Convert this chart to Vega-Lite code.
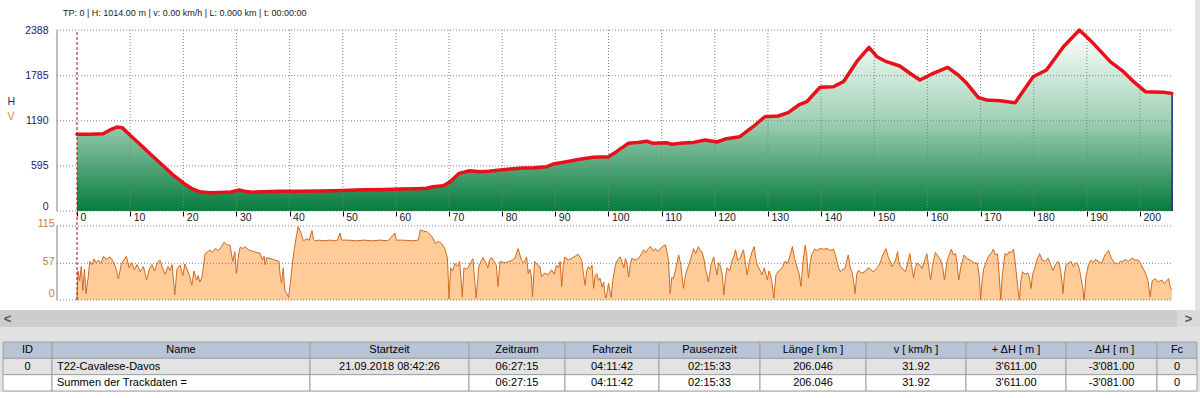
{
  "$schema": "https://vega.github.io/schema/vega-lite/v6.json",
  "background": "#e2e2e5",
  "padding": 0,
  "spacing": 0,
  "config": {"font": "Liberation Sans", "view": {"stroke": null}, "concat": {"spacing": 0}},
  "datasets": {
    "elev": [
      {"km":0,"h":1014},{"km":2.5,"h":1014},{"km":4.9,"h":1018},{"km":6.2,"h":1070},{"km":7.5,"h":1108},{"km":8.5,"h":1100},{"km":10,"h":1000},{"km":12,"h":870},{"km":14,"h":740},{"km":16,"h":610},{"km":18,"h":480},{"km":20,"h":370},{"km":21.5,"h":300},{"km":23,"h":255},{"km":25,"h":240},{"km":27,"h":245},{"km":29,"h":250},{"km":30.5,"h":278},{"km":31.5,"h":262},{"km":33,"h":248},{"km":35,"h":255},{"km":38,"h":260},{"km":42,"h":262},{"km":46,"h":265},{"km":50,"h":272},{"km":54,"h":280},{"km":58,"h":285},{"km":61,"h":290},{"km":64,"h":295},{"km":65.8,"h":300},{"km":67,"h":320},{"km":68.9,"h":334},{"km":70.2,"h":387},{"km":71.9,"h":497},{"km":73.9,"h":532},{"km":75.8,"h":519},{"km":77.5,"h":525},{"km":79.6,"h":541},{"km":81.5,"h":554},{"km":83.9,"h":567},{"km":86,"h":572},{"km":88.4,"h":585},{"km":89.6,"h":620},{"km":92.1,"h":651},{"km":94.6,"h":682},{"km":97.1,"h":708},{"km":100,"h":717},{"km":101.5,"h":783},{"km":103.7,"h":893},{"km":105.5,"h":905},{"km":107.2,"h":920},{"km":108.4,"h":893},{"km":110.9,"h":901},{"km":111.9,"h":880},{"km":114,"h":897},{"km":116,"h":905},{"km":118.2,"h":937},{"km":120.4,"h":910},{"km":122.2,"h":954},{"km":124.7,"h":980},{"km":127.2,"h":1112},{"km":129.4,"h":1244},{"km":131.9,"h":1253},{"km":133.8,"h":1297},{"km":136,"h":1408},{"km":137.3,"h":1442},{"km":139.8,"h":1632},{"km":142.3,"h":1640},{"km":144.2,"h":1706},{"km":146.7,"h":1970},{"km":149,"h":2160},{"km":150.5,"h":2036},{"km":152.3,"h":1970},{"km":154.8,"h":1913},{"km":156.7,"h":1817},{"km":158.6,"h":1728},{"km":161.1,"h":1817},{"km":163.8,"h":1896},{"km":165.8,"h":1794},{"km":167.4,"h":1685},{"km":169.6,"h":1495},{"km":171.2,"h":1464},{"km":173.7,"h":1455},{"km":176.5,"h":1429},{"km":179.9,"h":1772},{"km":182.4,"h":1860},{"km":185.6,"h":2168},{"km":188.6,"h":2388},{"km":191.2,"h":2212},{"km":194.4,"h":1970},{"km":196.9,"h":1838},{"km":198.8,"h":1706},{"km":201,"h":1574},{"km":204.4,"h":1566},{"km":206,"h":1552}
    ],
    "speed": [
      {"km":0,"v":0},{"km":0.2,"v":45},{"km":0.5,"v":30},{"km":0.8,"v":52},{"km":1.1,"v":15},{"km":1.4,"v":48},{"km":1.7,"v":10},{"km":2.1,"v":35},{"km":2.4,"v":60},{"km":2.8,"v":55},{"km":3.2,"v":64},{"km":3.6,"v":58},{"km":4.0,"v":62},{"km":4.5,"v":57},{"km":5.0,"v":68},{"km":5.5,"v":63},{"km":6.2,"v":67},{"km":6.8,"v":60},{"km":7.3,"v":50},{"km":7.8,"v":33},{"km":8.3,"v":55},{"km":8.8,"v":62},{"km":9.3,"v":68},{"km":9.8,"v":50},{"km":10.3,"v":58},{"km":10.8,"v":47},{"km":11.3,"v":55},{"km":11.9,"v":44},{"km":12.5,"v":52},{"km":13.1,"v":31},{"km":13.6,"v":48},{"km":14.1,"v":55},{"km":14.6,"v":45},{"km":15.1,"v":58},{"km":15.6,"v":62},{"km":16.1,"v":50},{"km":16.6,"v":40},{"km":17.1,"v":52},{"km":17.5,"v":46},{"km":17.9,"v":55},{"km":18.4,"v":8},{"km":18.8,"v":48},{"km":19.4,"v":54},{"km":19.9,"v":38},{"km":20.3,"v":56},{"km":20.6,"v":50},{"km":21.1,"v":40},{"km":21.6,"v":23},{"km":22.0,"v":45},{"km":22.5,"v":31},{"km":22.8,"v":38},{"km":23.1,"v":28},{"km":23.5,"v":35},{"km":24.1,"v":72},{"km":24.6,"v":75},{"km":25.0,"v":78},{"km":25.5,"v":74},{"km":26.0,"v":80},{"km":26.6,"v":77},{"km":27.1,"v":82},{"km":27.7,"v":90},{"km":28.2,"v":86},{"km":28.8,"v":85},{"km":29.3,"v":60},{"km":29.7,"v":75},{"km":30.0,"v":41},{"km":30.4,"v":70},{"km":30.7,"v":82},{"km":31.2,"v":80},{"km":31.6,"v":83},{"km":32.3,"v":78},{"km":33.0,"v":76},{"km":33.7,"v":74},{"km":34.4,"v":73},{"km":34.9,"v":62},{"km":35.2,"v":68},{"km":35.4,"v":55},{"km":35.7,"v":66},{"km":36.5,"v":64},{"km":37.3,"v":62},{"km":38.0,"v":60},{"km":38.2,"v":40},{"km":38.5,"v":26},{"km":38.8,"v":50},{"km":39.1,"v":15},{"km":39.5,"v":10},{"km":39.8,"v":4},{"km":40.2,"v":30},{"km":40.5,"v":55},{"km":40.9,"v":80},{"km":41.3,"v":100},{"km":41.6,"v":114},{"km":42.1,"v":105},{"km":42.6,"v":92},{"km":43.2,"v":95},{"km":43.7,"v":93},{"km":44.2,"v":108},{"km":44.5,"v":94},{"km":44.8,"v":92},{"km":45.5,"v":93},{"km":46.5,"v":92},{"km":47.5,"v":93},{"km":48.5,"v":92},{"km":49.0,"v":93},{"km":49.5,"v":104},{"km":49.8,"v":93},{"km":51,"v":93},{"km":52.5,"v":92},{"km":54,"v":93},{"km":55.5,"v":92},{"km":57,"v":93},{"km":58.5,"v":92},{"km":59.8,"v":104},{"km":60.1,"v":93},{"km":61.5,"v":93},{"km":63,"v":92},{"km":64.2,"v":93},{"km":64.6,"v":109},{"km":65.2,"v":107},{"km":65.9,"v":106},{"km":66.5,"v":101},{"km":67.0,"v":96},{"km":67.4,"v":88},{"km":68.0,"v":91},{"km":68.6,"v":88},{"km":69.2,"v":80},{"km":69.7,"v":65},{"km":70.0,"v":2},{"km":70.3,"v":50},{"km":70.7,"v":45},{"km":71.1,"v":57},{"km":71.6,"v":52},{"km":72.0,"v":60},{"km":72.5,"v":5},{"km":72.8,"v":50},{"km":73.2,"v":48},{"km":73.6,"v":50},{"km":74.0,"v":58},{"km":74.5,"v":64},{"km":75.1,"v":3},{"km":75.6,"v":52},{"km":76.0,"v":60},{"km":76.4,"v":66},{"km":76.9,"v":58},{"km":77.3,"v":50},{"km":77.6,"v":62},{"km":78.0,"v":66},{"km":78.5,"v":60},{"km":78.9,"v":54},{"km":79.2,"v":21},{"km":79.6,"v":60},{"km":80.3,"v":58},{"km":81.0,"v":59},{"km":81.7,"v":61},{"km":82.4,"v":65},{"km":83.0,"v":80},{"km":83.6,"v":62},{"km":84.1,"v":58},{"km":84.6,"v":67},{"km":84.9,"v":41},{"km":85.2,"v":48},{"km":85.5,"v":36},{"km":85.7,"v":5},{"km":86.1,"v":60},{"km":86.6,"v":55},{"km":87.1,"v":52},{"km":87.4,"v":36},{"km":88.0,"v":42},{"km":88.6,"v":39},{"km":89.3,"v":47},{"km":89.8,"v":40},{"km":90.2,"v":54},{"km":90.6,"v":50},{"km":90.9,"v":60},{"km":91.2,"v":21},{"km":91.5,"v":55},{"km":91.8,"v":67},{"km":92.4,"v":62},{"km":93.1,"v":65},{"km":93.7,"v":68},{"km":94.3,"v":71},{"km":94.7,"v":66},{"km":95.0,"v":60},{"km":95.3,"v":40},{"km":95.6,"v":23},{"km":95.9,"v":45},{"km":96.2,"v":52},{"km":96.6,"v":48},{"km":96.9,"v":54},{"km":97.2,"v":18},{"km":97.5,"v":38},{"km":97.8,"v":41},{"km":98.1,"v":30},{"km":98.4,"v":34},{"km":98.8,"v":20},{"km":99.1,"v":28},{"km":99.3,"v":10},{"km":99.5,"v":3},{"km":99.8,"v":15},{"km":100.0,"v":26},{"km":100.3,"v":12},{"km":100.5,"v":4},{"km":100.8,"v":30},{"km":101.3,"v":54},{"km":101.7,"v":62},{"km":102.2,"v":67},{"km":102.6,"v":58},{"km":102.9,"v":50},{"km":103.2,"v":65},{"km":103.5,"v":55},{"km":103.8,"v":36},{"km":104.1,"v":55},{"km":104.4,"v":65},{"km":105.0,"v":62},{"km":105.7,"v":65},{"km":106.2,"v":72},{"km":106.6,"v":78},{"km":107.0,"v":74},{"km":107.5,"v":80},{"km":107.9,"v":83},{"km":108.4,"v":76},{"km":108.8,"v":80},{"km":109.3,"v":75},{"km":110.0,"v":82},{"km":110.7,"v":86},{"km":111.0,"v":75},{"km":111.3,"v":60},{"km":111.6,"v":10},{"km":111.9,"v":35},{"km":112.2,"v":33},{"km":112.7,"v":50},{"km":113.2,"v":70},{"km":113.6,"v":55},{"km":114.1,"v":18},{"km":114.5,"v":40},{"km":115.0,"v":52},{"km":115.5,"v":65},{"km":116.0,"v":80},{"km":116.4,"v":72},{"km":116.9,"v":83},{"km":117.3,"v":76},{"km":117.6,"v":75},{"km":118.0,"v":62},{"km":118.2,"v":50},{"km":118.5,"v":40},{"km":118.8,"v":28},{"km":119.3,"v":55},{"km":119.8,"v":67},{"km":120.1,"v":52},{"km":120.4,"v":39},{"km":120.7,"v":58},{"km":121.0,"v":54},{"km":121.4,"v":40},{"km":121.7,"v":8},{"km":122.0,"v":35},{"km":122.3,"v":50},{"km":122.8,"v":45},{"km":123.2,"v":60},{"km":123.6,"v":68},{"km":123.9,"v":78},{"km":124.3,"v":62},{"km":124.8,"v":65},{"km":125.1,"v":72},{"km":125.4,"v":78},{"km":125.8,"v":55},{"km":126.1,"v":39},{"km":126.5,"v":60},{"km":127.0,"v":75},{"km":127.4,"v":83},{"km":127.7,"v":65},{"km":128.0,"v":54},{"km":128.4,"v":48},{"km":128.9,"v":39},{"km":129.3,"v":50},{"km":129.9,"v":31},{"km":130.2,"v":45},{"km":130.5,"v":39},{"km":130.8,"v":25},{"km":131.1,"v":3},{"km":131.3,"v":20},{"km":131.5,"v":39},{"km":132.0,"v":45},{"km":132.7,"v":50},{"km":133.2,"v":60},{"km":133.7,"v":57},{"km":134.2,"v":70},{"km":134.6,"v":83},{"km":135.0,"v":65},{"km":135.5,"v":50},{"km":135.9,"v":40},{"km":136.2,"v":21},{"km":136.6,"v":60},{"km":137.0,"v":85},{"km":137.3,"v":70},{"km":137.6,"v":34},{"km":138.0,"v":60},{"km":138.2,"v":70},{"km":138.8,"v":79},{"km":139.3,"v":77},{"km":139.8,"v":80},{"km":140.5,"v":79},{"km":141.1,"v":80},{"km":141.7,"v":77},{"km":142.3,"v":79},{"km":142.7,"v":70},{"km":143.0,"v":60},{"km":143.3,"v":50},{"km":143.6,"v":44},{"km":144.0,"v":47},{"km":144.5,"v":49},{"km":144.8,"v":60},{"km":145.1,"v":70},{"km":145.5,"v":50},{"km":145.8,"v":44},{"km":146.1,"v":30},{"km":146.4,"v":10},{"km":146.7,"v":40},{"km":147.0,"v":46},{"km":147.6,"v":42},{"km":148.3,"v":44},{"km":148.8,"v":50},{"km":149.2,"v":49},{"km":149.7,"v":44},{"km":150.2,"v":46},{"km":150.7,"v":52},{"km":151.1,"v":57},{"km":151.6,"v":70},{"km":152.2,"v":80},{"km":152.6,"v":68},{"km":153.0,"v":60},{"km":153.3,"v":52},{"km":153.6,"v":55},{"km":154.0,"v":62},{"km":154.4,"v":75},{"km":154.6,"v":60},{"km":154.9,"v":52},{"km":155.4,"v":48},{"km":155.9,"v":44},{"km":156.3,"v":58},{"km":156.7,"v":72},{"km":157.0,"v":55},{"km":157.4,"v":34},{"km":157.7,"v":50},{"km":158.0,"v":57},{"km":158.5,"v":55},{"km":159.0,"v":49},{"km":159.5,"v":62},{"km":159.9,"v":72},{"km":160.2,"v":55},{"km":160.6,"v":31},{"km":161.0,"v":55},{"km":161.5,"v":74},{"km":162.0,"v":68},{"km":162.5,"v":62},{"km":162.9,"v":50},{"km":163.2,"v":31},{"km":163.7,"v":60},{"km":164.1,"v":70},{"km":164.5,"v":79},{"km":164.9,"v":70},{"km":165.3,"v":72},{"km":165.6,"v":55},{"km":165.9,"v":31},{"km":166.3,"v":52},{"km":166.9,"v":70},{"km":167.5,"v":64},{"km":168.1,"v":62},{"km":168.7,"v":58},{"km":169.4,"v":57},{"km":169.8,"v":35},{"km":170.0,"v":0},{"km":170.3,"v":30},{"km":170.6,"v":49},{"km":171.1,"v":60},{"km":171.6,"v":70},{"km":172.0,"v":72},{"km":172.4,"v":79},{"km":172.8,"v":70},{"km":173.2,"v":72},{"km":173.5,"v":40},{"km":173.8,"v":0},{"km":174.1,"v":40},{"km":174.6,"v":72},{"km":175.0,"v":70},{"km":175.4,"v":75},{"km":175.8,"v":74},{"km":176.2,"v":79},{"km":176.5,"v":60},{"km":176.7,"v":44},{"km":177.0,"v":20},{"km":177.3,"v":0},{"km":177.6,"v":30},{"km":177.9,"v":44},{"km":178.4,"v":40},{"km":178.9,"v":42},{"km":179.2,"v":35},{"km":179.5,"v":18},{"km":179.8,"v":40},{"km":180.2,"v":49},{"km":180.6,"v":62},{"km":181.1,"v":72},{"km":181.6,"v":62},{"km":182.1,"v":60},{"km":182.7,"v":65},{"km":183.2,"v":55},{"km":183.6,"v":46},{"km":184.1,"v":55},{"km":184.6,"v":60},{"km":185.0,"v":50},{"km":185.3,"v":30},{"km":185.5,"v":10},{"km":185.8,"v":40},{"km":186.1,"v":55},{"km":186.5,"v":57},{"km":187.0,"v":60},{"km":187.5,"v":52},{"km":188.0,"v":58},{"km":188.4,"v":54},{"km":188.8,"v":40},{"km":189.2,"v":20},{"km":189.5,"v":0},{"km":189.8,"v":35},{"km":190.3,"v":55},{"km":190.8,"v":62},{"km":191.2,"v":58},{"km":191.6,"v":63},{"km":192.2,"v":60},{"km":192.8,"v":57},{"km":193.4,"v":70},{"km":194.1,"v":77},{"km":194.6,"v":65},{"km":195.0,"v":60},{"km":195.3,"v":57},{"km":195.8,"v":56},{"km":196.3,"v":60},{"km":196.6,"v":59},{"km":197.2,"v":63},{"km":197.8,"v":60},{"km":198.5,"v":65},{"km":199.1,"v":62},{"km":199.7,"v":62},{"km":200.2,"v":55},{"km":200.7,"v":47},{"km":201.1,"v":40},{"km":201.5,"v":30},{"km":201.9,"v":5},{"km":202.3,"v":30},{"km":202.9,"v":33},{"km":203.4,"v":28},{"km":204.1,"v":31},{"km":204.6,"v":25},{"km":205.0,"v":30},{"km":205.4,"v":33},{"km":205.7,"v":20},{"km":206.0,"v":16}
    ],
    "table": [
      {"col":"ID","row":"h","text":"ID"},{"col":"ID","row":"r1","text":"0"},{"col":"ID","row":"r2","text":""},
      {"col":"Name","row":"h","text":"Name"},{"col":"Name","row":"r1","text":"T22-Cavalese-Davos"},{"col":"Name","row":"r2","text":"Summen der Trackdaten ="},
      {"col":"Start","row":"h","text":"Startzeit"},{"col":"Start","row":"r1","text":"21.09.2018 08:42:26"},{"col":"Start","row":"r2","text":""},
      {"col":"Zeit","row":"h","text":"Zeitraum"},{"col":"Zeit","row":"r1","text":"06:27:15"},{"col":"Zeit","row":"r2","text":"06:27:15"},
      {"col":"Fahr","row":"h","text":"Fahrzeit"},{"col":"Fahr","row":"r1","text":"04:11:42"},{"col":"Fahr","row":"r2","text":"04:11:42"},
      {"col":"Pause","row":"h","text":"Pausenzeit"},{"col":"Pause","row":"r1","text":"02:15:33"},{"col":"Pause","row":"r2","text":"02:15:33"},
      {"col":"Laenge","row":"h","text":"Länge  [ km ]"},{"col":"Laenge","row":"r1","text":"206.046"},{"col":"Laenge","row":"r2","text":"206.046"},
      {"col":"V","row":"h","text":"v  [ km/h ]"},{"col":"V","row":"r1","text":"31.92"},{"col":"V","row":"r2","text":"31.92"},
      {"col":"Up","row":"h","text":"+ ΔH  [ m ]"},{"col":"Up","row":"r1","text":"3'611.00"},{"col":"Up","row":"r2","text":"3'611.00"},
      {"col":"Down","row":"h","text":"- ΔH  [ m ]"},{"col":"Down","row":"r1","text":"-3'081.00"},{"col":"Down","row":"r2","text":"-3'081.00"},
      {"col":"Fc","row":"h","text":"Fc"},{"col":"Fc","row":"r1","text":"0"},{"col":"Fc","row":"r2","text":"0"}
    ]
  },
  "vconcat": [
    {
      "width": 1195,
      "height": 310,
      "view": {"fill": "#ffffff", "stroke": null},
      "resolve": {"scale": {"y": "independent"}, "axis": {"y": "independent"}},
      "layer": [
        {
          "layer": [
            {
              "data": {"name": "elev"},
              "mark": {"type": "area", "color": {"gradient": "linear", "x1": 0, "y1": 0, "x2": 0, "y2": 1, "stops": [{"offset": 0, "color": "#ffffff"}, {"offset": 0.5, "color": "#9fd1b5"}, {"offset": 1, "color": "#067b3c"}]}},
              "encoding": {
                "x": {"field": "km", "type": "quantitative", "scale": {"domain": [-14.487, 210.348], "nice": false, "zero": false},
                  "axis": {"orient": "bottom", "offset": -99, "values": [0,10,20,30,40,50,60,70,80,90,100,110,120,130,140,150,160,170,180,190,200], "format": "d", "title": null, "domain": false, "grid": false, "ticks": true, "tickSize": 5, "tickColor": "#000000", "labelAlign": "left", "labelBaseline": "top", "labelPadding": -4, "labelOffset": 3, "labelFontSize": 10.5, "labelColor": "#1a1a1a", "labelOverlap": false, "labelFlush": false}},
                "y": {"field": "h", "type": "quantitative", "scale": {"domain": [-1306.1, 2783.8], "nice": false, "zero": false},
                  "axis": {"orient": "left", "offset": -57, "values": [0, 595, 1190, 1785, 2388], "format": "d", "title": "H", "titleAngle": 0, "titleX": -50, "titleY": 101, "titleAlign": "left", "titleBaseline": "middle", "titleFontSize": 10.5, "titleFontWeight": "normal", "titleColor": "#2a2a7a", "domain": false, "grid": false, "ticks": false, "tickSize": 0, "labelPadding": 9, "labelFontSize": 10.5, "labelColor": "#20206e", "labelOffset": {"condition": {"test": "datum.value === 0", "value": -5}, "value": 0}, "labelOverlap": false, "labelFlush": false}},
                "y2": {"datum": 0}
              }
            },
            {
              "data": {"values": [{"h": 0}, {"h": 595}, {"h": 1190}, {"h": 1785}, {"h": 2388}]},
              "mark": {"type": "rule", "color": "#808080", "strokeDash": [1, 2], "strokeWidth": 1},
              "encoding": {
                "x": {"datum": -3.763, "type": "quantitative"},
                "x2": {"datum": 206.046},
                "y": {"field": "h", "type": "quantitative"}
              }
            },
            {
              "data": {"values": [{"km":10},{"km":20},{"km":30},{"km":40},{"km":50},{"km":60},{"km":70},{"km":80},{"km":90},{"km":100},{"km":110},{"km":120},{"km":130},{"km":140},{"km":150},{"km":160},{"km":170},{"km":180},{"km":190},{"km":200}]},
              "mark": {"type": "rule", "color": "#808080", "strokeDash": [1, 2], "strokeWidth": 1},
              "encoding": {
                "x": {"field": "km", "type": "quantitative"},
                "y": {"datum": 0, "type": "quantitative"},
                "y2": {"datum": 2388}
              }
            },
            {
              "data": {"values": [{}]},
              "mark": {"type": "rule", "color": "#808080", "strokeWidth": 1},
              "encoding": {
                "x": {"datum": -3.763, "type": "quantitative"},
                "y": {"datum": 0, "type": "quantitative"},
                "y2": {"datum": 2388}
              }
            },
            {
              "data": {"values": [{}]},
              "mark": {"type": "rule", "color": "#1a237e", "strokeWidth": 1.5},
              "encoding": {
                "x": {"datum": 206.046, "type": "quantitative"},
                "y": {"datum": 0, "type": "quantitative"},
                "y2": {"datum": 1552}
              }
            },
            {
              "data": {"name": "elev"},
              "mark": {"type": "line", "color": "#e8101a", "strokeWidth": 3.5, "strokeJoin": "round", "strokeCap": "round"},
              "encoding": {
                "x": {"field": "km", "type": "quantitative"},
                "y": {"field": "h", "type": "quantitative"}
              }
            },
            {
              "data": {"values": [{"t": "TP: 0 | H: 1014.00 m | v: 0.00 km/h | L: 0.000 km | t: 00:00:00"}]},
              "mark": {"type": "text", "align": "left", "baseline": "middle", "fontSize": 9, "color": "#1a1a1a"},
              "encoding": {
                "x": {"datum": -2.634, "type": "quantitative"},
                "y": {"datum": 2612, "type": "quantitative"},
                "text": {"field": "t"}
              }
            }
          ]
        },
        {
          "layer": [
            {
              "data": {"name": "speed"},
              "mark": {"type": "area", "color": "#ffcc99"},
              "encoding": {
                "x": {"field": "km", "type": "quantitative"},
                "y": {"field": "v", "type": "quantitative", "scale": {"domain": [-15.54, 466.2], "nice": false, "zero": false},
                  "axis": {"orient": "left", "offset": -57, "values": [0, 57, 115], "format": "d", "title": "V", "titleAngle": 0, "titleX": -50, "titleY": 116, "titleAlign": "left", "titleBaseline": "middle", "titleFontSize": 10.5, "titleFontWeight": "normal", "titleColor": "#d2813f", "domain": false, "grid": false, "ticks": false, "tickSize": 0, "labelPadding": 3, "labelFontSize": 10.5, "labelColor": "#c8803f", "labelOffset": {"condition": {"test": "datum.value === 0", "value": -7}, "value": -2}, "labelOverlap": false, "labelFlush": false}},
                "y2": {"datum": 0}
              }
            },
            {
              "data": {"values": [{"v": 0}, {"v": 57}, {"v": 115}]},
              "mark": {"type": "rule", "color": "#808080", "strokeDash": [1, 2], "strokeWidth": 1},
              "encoding": {
                "x": {"datum": -3.763, "type": "quantitative"},
                "x2": {"datum": 206.046},
                "y": {"field": "v", "type": "quantitative"}
              }
            },
            {
              "data": {"name": "speed"},
              "mark": {"type": "line", "color": "#d06a20", "strokeWidth": 1},
              "encoding": {
                "x": {"field": "km", "type": "quantitative"},
                "y": {"field": "v", "type": "quantitative"}
              }
            },
            {
              "data": {"values": [{}]},
              "mark": {"type": "rule", "color": "#808080", "strokeWidth": 1},
              "encoding": {
                "x": {"datum": -3.763, "type": "quantitative"},
                "y": {"datum": 0, "type": "quantitative"},
                "y2": {"datum": 115}
              }
            },
            {
              "data": {"values": [{}]},
              "mark": {"type": "rule", "color": "#a81010", "strokeWidth": 1, "strokeDash": [3, 2]},
              "encoding": {
                "x": {"datum": 0, "type": "quantitative"},
                "y": {"datum": 0, "type": "quantitative"},
                "y2": {"datum": 419.6}
              }
            }
          ]
        }
      ]
    },
    {
      "spacing": 0,
      "bounds": "flush",
      "hconcat": [
        {"width": 15, "height": 17, "view": {"fill": "#cdcdcd", "stroke": null}, "data": {"values": [{"t": "<"}]}, "mark": {"type": "text", "fontSize": 13, "fontWeight": "bold", "color": "#555555"}, "encoding": {"text": {"field": "t"}}},
        {"width": 1162, "height": 17, "view": {"fill": "#cdcdcd", "stroke": null}, "data": {"values": [{"t": ""}]}, "mark": {"type": "text"}, "encoding": {"text": {"field": "t"}}},
        {"width": 23, "height": 17, "view": {"fill": "#dadada", "stroke": null}, "data": {"values": [{"t": ">"}]}, "mark": {"type": "text", "fontSize": 13, "fontWeight": "bold", "color": "#555555"}, "encoding": {"text": {"field": "t"}}}
      ]
    },
    {"width": 1200, "height": 14, "view": {"fill": "#e2e2e5", "stroke": null}, "data": {"values": [{"t": ""}]}, "mark": {"type": "text"}, "encoding": {"text": {"field": "t"}}},
    {
      "spacing": 0,
      "bounds": "flush",
      "hconcat": [
        {"width": 3, "height": 49, "view": {"fill": "#e2e2e5", "stroke": null}, "data": {"values": [{"t": ""}]}, "mark": {"type": "text"}, "encoding": {"text": {"field": "t"}}},
        {"width": 49, "height": 49, "data": {"name": "table"}, "transform": [{"filter": "datum.col === 'ID'"}],
         "encoding": {"y": {"field": "row", "type": "nominal", "scale": {"domain": ["h", "r1", "r2"], "paddingInner": 0, "paddingOuter": 0}, "axis": null}},
         "layer": [
           {"mark": {"type": "rect", "strokeWidth": 1}, "encoding": {"fill": {"field": "row", "type": "nominal", "scale": {"domain": ["h", "r1", "r2"], "range": ["#b8c4d6", "#e3e3e3", "#ffffff"]}, "legend": null}, "stroke": {"field": "row", "type": "nominal", "scale": {"domain": ["h", "r1", "r2"], "range": ["#a0a0a0", "#a0a0a0", "#a0a0a0"]}, "legend": null}}},
           {"mark": {"type": "text", "fontSize": 11, "color": "#000000"}, "encoding": {"text": {"field": "text"}}}
         ]},
        {"width": 258, "height": 49, "data": {"name": "table"}, "transform": [{"filter": "datum.col === 'Name'"}],
         "encoding": {"y": {"field": "row", "type": "nominal", "scale": {"domain": ["h", "r1", "r2"], "paddingInner": 0, "paddingOuter": 0}, "axis": null}},
         "layer": [
           {"mark": {"type": "rect", "strokeWidth": 1}, "encoding": {"fill": {"field": "row", "type": "nominal", "scale": {"domain": ["h", "r1", "r2"], "range": ["#b8c4d6", "#e3e3e3", "#ffffff"]}, "legend": null}, "stroke": {"field": "row", "type": "nominal", "scale": {"domain": ["h", "r1", "r2"], "range": ["#a0a0a0", "#a0a0a0", "#a0a0a0"]}, "legend": null}}},
           {"transform": [{"filter": "datum.row === 'h'"}], "mark": {"type": "text", "fontSize": 11, "color": "#000000"}, "encoding": {"text": {"field": "text"}}},
           {"transform": [{"filter": "datum.row !== 'h'"}], "mark": {"type": "text", "fontSize": 11, "color": "#000000", "align": "left"}, "encoding": {"x": {"value": 5}, "text": {"field": "text"}}}
         ]},
        {"width": 159, "height": 49, "data": {"name": "table"}, "transform": [{"filter": "datum.col === 'Start'"}],
         "encoding": {"y": {"field": "row", "type": "nominal", "scale": {"domain": ["h", "r1", "r2"], "paddingInner": 0, "paddingOuter": 0}, "axis": null}},
         "layer": [
           {"mark": {"type": "rect", "strokeWidth": 1}, "encoding": {"fill": {"field": "row", "type": "nominal", "scale": {"domain": ["h", "r1", "r2"], "range": ["#b8c4d6", "#e3e3e3", "#ffffff"]}, "legend": null}, "stroke": {"field": "row", "type": "nominal", "scale": {"domain": ["h", "r1", "r2"], "range": ["#a0a0a0", "#a0a0a0", "#a0a0a0"]}, "legend": null}}},
           {"mark": {"type": "text", "fontSize": 11, "color": "#000000"}, "encoding": {"text": {"field": "text"}}}
         ]},
        {"width": 96, "height": 49, "data": {"name": "table"}, "transform": [{"filter": "datum.col === 'Zeit'"}],
         "encoding": {"y": {"field": "row", "type": "nominal", "scale": {"domain": ["h", "r1", "r2"], "paddingInner": 0, "paddingOuter": 0}, "axis": null}},
         "layer": [
           {"mark": {"type": "rect", "strokeWidth": 1}, "encoding": {"fill": {"field": "row", "type": "nominal", "scale": {"domain": ["h", "r1", "r2"], "range": ["#b8c4d6", "#e3e3e3", "#ffffff"]}, "legend": null}, "stroke": {"field": "row", "type": "nominal", "scale": {"domain": ["h", "r1", "r2"], "range": ["#a0a0a0", "#a0a0a0", "#a0a0a0"]}, "legend": null}}},
           {"mark": {"type": "text", "fontSize": 11, "color": "#000000"}, "encoding": {"text": {"field": "text"}}}
         ]},
        {"width": 94, "height": 49, "data": {"name": "table"}, "transform": [{"filter": "datum.col === 'Fahr'"}],
         "encoding": {"y": {"field": "row", "type": "nominal", "scale": {"domain": ["h", "r1", "r2"], "paddingInner": 0, "paddingOuter": 0}, "axis": null}},
         "layer": [
           {"mark": {"type": "rect", "strokeWidth": 1}, "encoding": {"fill": {"field": "row", "type": "nominal", "scale": {"domain": ["h", "r1", "r2"], "range": ["#b8c4d6", "#e3e3e3", "#ffffff"]}, "legend": null}, "stroke": {"field": "row", "type": "nominal", "scale": {"domain": ["h", "r1", "r2"], "range": ["#a0a0a0", "#a0a0a0", "#a0a0a0"]}, "legend": null}}},
           {"mark": {"type": "text", "fontSize": 11, "color": "#000000"}, "encoding": {"text": {"field": "text"}}}
         ]},
        {"width": 101, "height": 49, "data": {"name": "table"}, "transform": [{"filter": "datum.col === 'Pause'"}],
         "encoding": {"y": {"field": "row", "type": "nominal", "scale": {"domain": ["h", "r1", "r2"], "paddingInner": 0, "paddingOuter": 0}, "axis": null}},
         "layer": [
           {"mark": {"type": "rect", "strokeWidth": 1}, "encoding": {"fill": {"field": "row", "type": "nominal", "scale": {"domain": ["h", "r1", "r2"], "range": ["#b8c4d6", "#e3e3e3", "#ffffff"]}, "legend": null}, "stroke": {"field": "row", "type": "nominal", "scale": {"domain": ["h", "r1", "r2"], "range": ["#a0a0a0", "#a0a0a0", "#a0a0a0"]}, "legend": null}}},
           {"mark": {"type": "text", "fontSize": 11, "color": "#000000"}, "encoding": {"text": {"field": "text"}}}
         ]},
        {"width": 106, "height": 49, "data": {"name": "table"}, "transform": [{"filter": "datum.col === 'Laenge'"}],
         "encoding": {"y": {"field": "row", "type": "nominal", "scale": {"domain": ["h", "r1", "r2"], "paddingInner": 0, "paddingOuter": 0}, "axis": null}},
         "layer": [
           {"mark": {"type": "rect", "strokeWidth": 1}, "encoding": {"fill": {"field": "row", "type": "nominal", "scale": {"domain": ["h", "r1", "r2"], "range": ["#b8c4d6", "#e3e3e3", "#ffffff"]}, "legend": null}, "stroke": {"field": "row", "type": "nominal", "scale": {"domain": ["h", "r1", "r2"], "range": ["#a0a0a0", "#a0a0a0", "#a0a0a0"]}, "legend": null}}},
           {"mark": {"type": "text", "fontSize": 11, "color": "#000000"}, "encoding": {"text": {"field": "text"}}}
         ]},
        {"width": 100, "height": 49, "data": {"name": "table"}, "transform": [{"filter": "datum.col === 'V'"}],
         "encoding": {"y": {"field": "row", "type": "nominal", "scale": {"domain": ["h", "r1", "r2"], "paddingInner": 0, "paddingOuter": 0}, "axis": null}},
         "layer": [
           {"mark": {"type": "rect", "strokeWidth": 1}, "encoding": {"fill": {"field": "row", "type": "nominal", "scale": {"domain": ["h", "r1", "r2"], "range": ["#b8c4d6", "#e3e3e3", "#ffffff"]}, "legend": null}, "stroke": {"field": "row", "type": "nominal", "scale": {"domain": ["h", "r1", "r2"], "range": ["#a0a0a0", "#a0a0a0", "#a0a0a0"]}, "legend": null}}},
           {"mark": {"type": "text", "fontSize": 11, "color": "#000000"}, "encoding": {"text": {"field": "text"}}}
         ]},
        {"width": 100, "height": 49, "data": {"name": "table"}, "transform": [{"filter": "datum.col === 'Up'"}],
         "encoding": {"y": {"field": "row", "type": "nominal", "scale": {"domain": ["h", "r1", "r2"], "paddingInner": 0, "paddingOuter": 0}, "axis": null}},
         "layer": [
           {"mark": {"type": "rect", "strokeWidth": 1}, "encoding": {"fill": {"field": "row", "type": "nominal", "scale": {"domain": ["h", "r1", "r2"], "range": ["#b8c4d6", "#e3e3e3", "#ffffff"]}, "legend": null}, "stroke": {"field": "row", "type": "nominal", "scale": {"domain": ["h", "r1", "r2"], "range": ["#a0a0a0", "#a0a0a0", "#a0a0a0"]}, "legend": null}}},
           {"mark": {"type": "text", "fontSize": 11, "color": "#000000"}, "encoding": {"text": {"field": "text"}}}
         ]},
        {"width": 91, "height": 49, "data": {"name": "table"}, "transform": [{"filter": "datum.col === 'Down'"}],
         "encoding": {"y": {"field": "row", "type": "nominal", "scale": {"domain": ["h", "r1", "r2"], "paddingInner": 0, "paddingOuter": 0}, "axis": null}},
         "layer": [
           {"mark": {"type": "rect", "strokeWidth": 1}, "encoding": {"fill": {"field": "row", "type": "nominal", "scale": {"domain": ["h", "r1", "r2"], "range": ["#b8c4d6", "#e3e3e3", "#ffffff"]}, "legend": null}, "stroke": {"field": "row", "type": "nominal", "scale": {"domain": ["h", "r1", "r2"], "range": ["#a0a0a0", "#a0a0a0", "#a0a0a0"]}, "legend": null}}},
           {"mark": {"type": "text", "fontSize": 11, "color": "#000000"}, "encoding": {"text": {"field": "text"}}}
         ]},
        {"width": 40, "height": 49, "data": {"name": "table"}, "transform": [{"filter": "datum.col === 'Fc'"}],
         "encoding": {"y": {"field": "row", "type": "nominal", "scale": {"domain": ["h", "r1", "r2"], "paddingInner": 0, "paddingOuter": 0}, "axis": null}},
         "layer": [
           {"mark": {"type": "rect", "strokeWidth": 1}, "encoding": {"fill": {"field": "row", "type": "nominal", "scale": {"domain": ["h", "r1", "r2"], "range": ["#b8c4d6", "#e3e3e3", "#ffffff"]}, "legend": null}, "stroke": {"field": "row", "type": "nominal", "scale": {"domain": ["h", "r1", "r2"], "range": ["#a0a0a0", "#a0a0a0", "#a0a0a0"]}, "legend": null}}},
           {"mark": {"type": "text", "fontSize": 11, "color": "#000000"}, "encoding": {"text": {"field": "text"}}}
         ]}
      ]
    }
  ]
}
